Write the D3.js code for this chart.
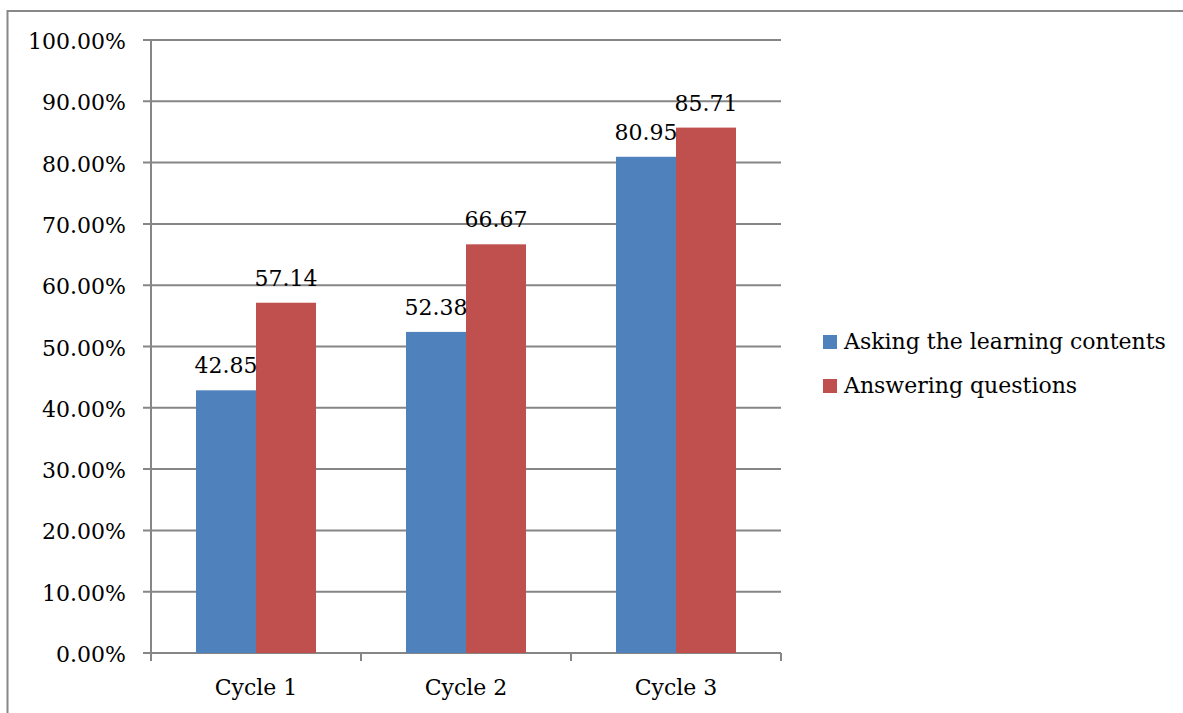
<!DOCTYPE html>
<html>
<head>
<meta charset="utf-8">
<script src="https://cdn.jsdelivr.net/npm/d3@7"></script>
<style>
  body { margin: 0; background: #fff; }
  svg text { font-family: "DejaVu Serif", "Liberation Serif", serif; fill: #000; }
</style>
</head>
<body>
<div id="chart"></div>
<script>
// chart data
var categories = ['Cycle 1', 'Cycle 2', 'Cycle 3'];
var seriesNames = ['Asking the learning contents', 'Answering questions'];
var asking = [42.85, 52.38, 80.95];
var answering = [57.14, 66.67, 85.71];
var yTicks = [0, 10, 20, 30, 40, 50, 60, 70, 80, 90, 100];
var colors = ['#4F81BD', '#C0504D'];

(function() {
    'use strict';
    var width = 1183, height = 713;
    var plotLeft = 151, plotRight = 781, plotTop = 40, plotBottom = 653;
    var fontSize = '22px';

    var svg = d3.select('#chart').append('svg')
        .attr('width', width)
        .attr('height', height);

    // outer frame
    svg.append('rect')
        .attr('x', 7.5).attr('y', 11)
        .attr('width', width + 10).attr('height', height + 10)
        .attr('fill', 'none')
        .attr('stroke', '#888')
        .attr('stroke-width', 2);

    var y = d3.scaleLinear().domain([0, 100]).range([plotBottom, plotTop]);
    var x0 = d3.scaleBand().domain(categories).range([plotLeft, plotRight]);
    var x1 = d3.scaleBand().domain([0, 1]).range([0, x0.bandwidth()]).paddingOuter(0.75);

    // gridlines + y labels
    var grid = svg.append('g');
    grid.selectAll('line').data(yTicks).enter().append('line')
        .attr('x1', plotLeft - 8).attr('x2', plotRight)
        .attr('y1', function(d) { return y(d); })
        .attr('y2', function(d) { return y(d); })
        .attr('stroke', '#868686')
        .attr('stroke-width', 2);

    grid.selectAll('text').data(yTicks).enter().append('text')
        .attr('x', 126)
        .attr('y', function(d) { return y(d) + 9; })
        .attr('text-anchor', 'end')
        .style('font-size', fontSize)
        .text(function(d) { return d3.format('.2f')(d) + '%'; });

    // y axis line
    svg.append('line')
        .attr('x1', plotLeft).attr('x2', plotLeft)
        .attr('y1', plotTop).attr('y2', plotBottom + 8)
        .attr('stroke', '#868686').attr('stroke-width', 2);

    // x ticks
    var xTickPos = d3.range(categories.length + 1).map(function(i) { return plotLeft + i * x0.bandwidth(); });
    svg.selectAll('.xtick').data(xTickPos).enter().append('line')
        .attr('class', 'xtick')
        .attr('x1', function(d) { return d; }).attr('x2', function(d) { return d; })
        .attr('y1', plotBottom).attr('y2', plotBottom + 8)
        .attr('stroke', '#868686').attr('stroke-width', 2);

    // bars
    var rows = categories.map(function(c, i) {
        return { cat: c, vals: [asking[i], answering[i]] };
    });

    var groups = svg.selectAll('.grp').data(rows).enter().append('g')
        .attr('class', 'grp')
        .attr('transform', function(d) { return 'translate(' + x0(d.cat) + ',0)'; });

    groups.selectAll('rect').data(function(d) { return d.vals; }).enter().append('rect')
        .attr('x', function(d, i) { return x1(i); })
        .attr('y', function(d) { return y(d); })
        .attr('width', x1.bandwidth())
        .attr('height', function(d) { return plotBottom - y(d); })
        .attr('fill', function(d, i) { return colors[i]; });

    groups.selectAll('text').data(function(d) { return d.vals; }).enter().append('text')
        .attr('x', function(d, i) { return x1(i) + x1.bandwidth() / 2; })
        .attr('y', function(d) { return y(d) - 17; })
        .attr('text-anchor', 'middle')
        .style('font-size', fontSize)
        .text(function(d) { return d3.format('.2f')(d); });

    // x labels
    svg.selectAll('.xlab').data(categories).enter().append('text')
        .attr('class', 'xlab')
        .attr('x', function(d) { return x0(d) + x0.bandwidth() / 2; })
        .attr('y', 695)
        .attr('text-anchor', 'middle')
        .style('font-size', fontSize)
        .text(function(d) { return d; });

    // legend
    var legend = svg.selectAll('.leg').data(seriesNames).enter().append('g')
        .attr('class', 'leg')
        .attr('transform', function(d, i) { return 'translate(823,' + (335 + i * 44) + ')'; });

    legend.append('rect')
        .attr('width', 14).attr('height', 14)
        .attr('fill', function(d, i) { return colors[i]; });

    legend.append('text')
        .attr('x', 21).attr('y', 14)
        .style('font-size', fontSize)
        .text(function(d) { return d; });
})();
</script>
</body>
</html>
